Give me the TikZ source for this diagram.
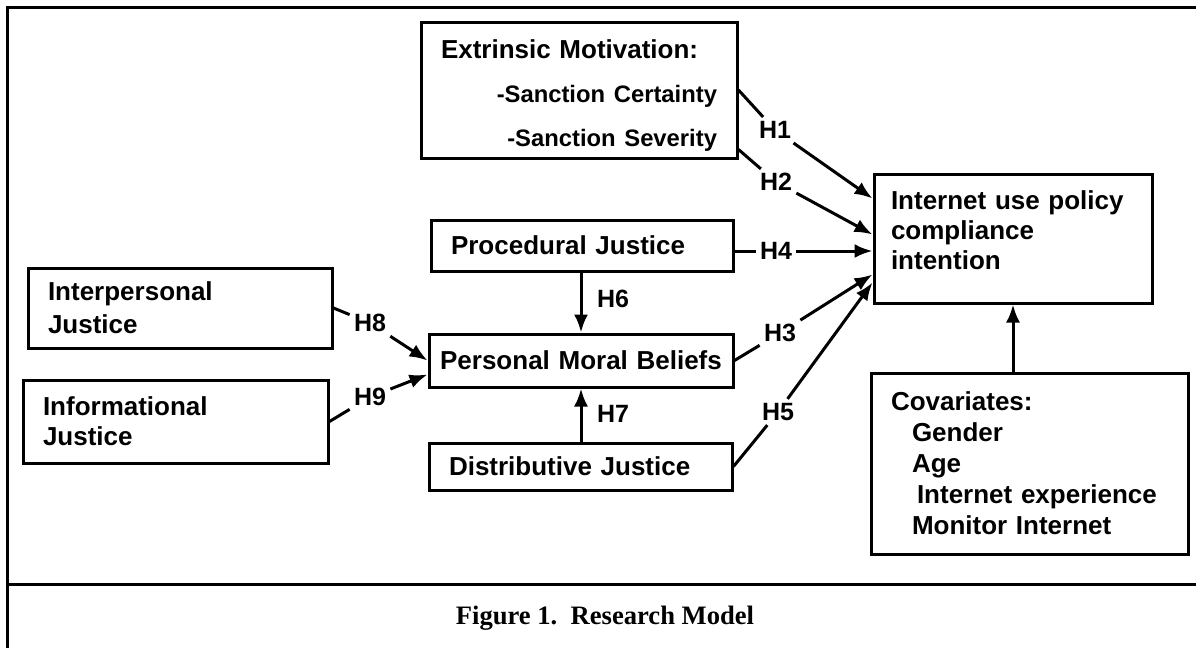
\documentclass[tikz,border=0pt]{standalone}
\usepackage{fontspec}
\setmainfont{Liberation Sans}
\newfontfamily\legendefont{Liberation Serif}
\usepackage{tikz}
\usetikzlibrary{arrows.meta}
\tikzset{
  boite/.style={draw,line width=1.5pt,inner xsep=10pt,inner ysep=0pt,align=left,
    font=\fontsize{13}{15}\selectfont\bfseries},
  hypo/.style={inner sep=2pt,font=\fontsize{12.5}{15}\selectfont\bfseries},
  trait/.style={line width=1.5pt},
  fleche/.style={line width=1.5pt,-{Latex[length=9pt,width=7pt]}}
}

\begin{document}
\begin{tikzpicture}[x=0.5pt,y=-0.5pt]
\useasboundingbox (0,0) rectangle (1196,648);
% cadre et légende
\draw[trait] (1196,7) -- (7,7) -- (7,648);
\draw[trait] (7,584) -- (1196,584);
\node[font=\legendefont\bfseries\fontsize{13.3}{16}\selectfont] (legende) at (605,618)
  {Figure 1.~~Research Model};
% construits
\node[boite,text width=138pt,minimum height=68pt] (ext) at (579,90)
  {\rule{0pt}{14.5pt}Extrinsic Motivation:\\[7pt]
   \hspace*{\fill}{\fontsize{11.9}{15}\selectfont -Sanction~Certainty}\\[7pt]
   \hspace*{\fill}{\fontsize{11.9}{15}\selectfont -Sanction~Severity}};
\node[boite,text width=131pt,minimum height=25.5pt] (proc) at (582,245.5) {Procedural~Justice};
\node[boite,inner xsep=5pt,text width=142pt,align=center,minimum height=26.5pt] (pmb) at (581,360.5)
  {Personal~Moral~Beliefs};
\node[boite,text width=131.5pt,minimum height=23.5pt] (dist) at (580.5,466.5) {Distributive~Justice};
\node[boite,text width=132pt,minimum height=40pt] (inter) at (180,308) {Interpersonal\\[1.5pt]Justice};
\node[boite,text width=132.5pt,minimum height=41.5pt] (info) at (175.5,421.5) {Informational\\Justice};
\node[boite,inner xsep=8.5pt,text width=122pt,minimum height=64.5pt] (net) at (1013,238.5)
  {Internet~use~policy\\compliance\\intention\rule[-8pt]{0pt}{8pt}};
\node[boite,text width=138.5pt,minimum height=90.5pt] (cov) at (1029.5,463.5)
  {Covariates:\\[0.5pt]
   \hspace*{10.5pt}Gender\\[0.5pt]
   \hspace*{10.5pt}Age\\[0.5pt]
   \hspace*{13pt}Internet~experience\\[0.5pt]
   \hspace*{10.5pt}Monitor~Internet};
% hypothèses
\node[hypo] (h1) at (775,130) {H1};
\node[hypo] (h2) at (776,182) {H2};
\node[hypo] (h4) at (776,251) {H4};
\node[hypo] (h3) at (780,333) {H3};
\node[hypo] (h5) at (778,412) {H5};
\node[hypo] (h6) at (613,299) {H6};
\node[hypo] (h7) at (613,414) {H7};
\node[hypo] (h8) at (370,323) {H8};
\node[hypo] (h9) at (370,397) {H9};
% liens
\draw[trait] (ext.east) -- (h1);
\draw[fleche] (h1) -- ([yshift=20pt]net.west);
\draw[trait] ([yshift=5pt]ext.south east) -- (h2);
\draw[fleche] (h2) -- ([yshift=2pt]net.west);
\draw[trait] (proc.east |- h4) -- (h4);
\draw[fleche] (h4) -- (net.west |- h4);
\draw[trait] (pmb.east) -- (h3);
\draw[fleche] (h3) -- ([yshift=-18pt]net.west);
\draw[trait] (dist.east) -- (h5);
\draw[fleche] (h5) -- ([yshift=-22pt]net.west);
\draw[fleche] (proc.south -| pmb.north) -- (pmb.north);
\draw[fleche] (dist.north -| pmb.south) -- (pmb.south);
\draw[trait] (inter.east) -- (h8);
\draw[fleche] (h8) -- (pmb.west);
\draw[trait] (info.east) -- (h9);
\draw[fleche] (h9) -- ([yshift=-7pt]pmb.west);
\draw[fleche] (net.south |- cov.north) -- (net.south);
\end{tikzpicture}
\end{document}
